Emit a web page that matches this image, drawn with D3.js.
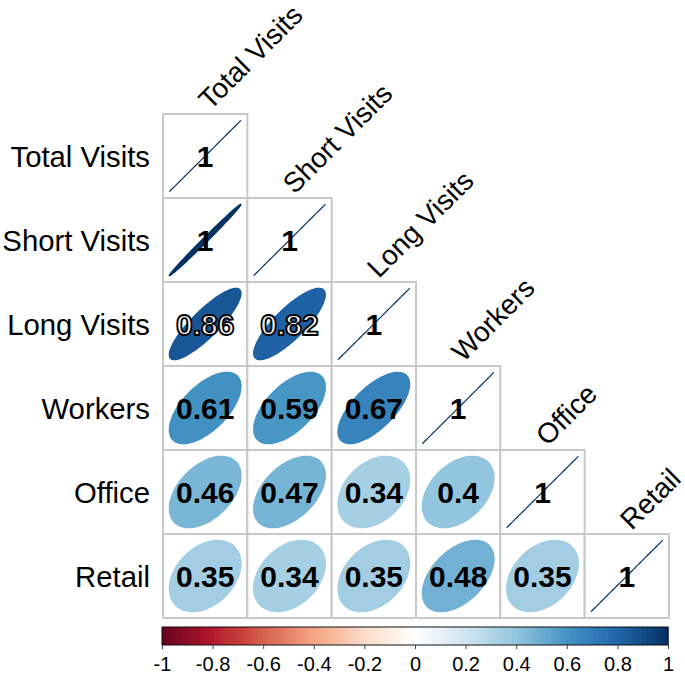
<!doctype html>
<meta charset="utf-8">
<title>Correlation matrix</title>
<style>
  body { margin: 0; background: #fff; }
  text { font-family: "Liberation Sans", Arial, sans-serif; }
</style>
<svg id="visual" width="685" height="674"></svg>
<script src="https://cdn.jsdelivr.net/npm/d3@7/dist/d3.min.js"></script>
<script>

// (variables)
var vars = ["Total Visits", "Short Visits", "Long Visits", "Workers", "Office", "Retail"];

// (lower triangle, row by row; diagonal included)
var corrRows = [
	[1],
	[0.9952, 1],
	[0.86, 0.82, 1],
	[0.61, 0.59, 0.67, 1],
	[0.46, 0.47, 0.34, 0.4, 1],
	[0.35, 0.34, 0.35, 0.48, 0.35, 1]
];

// values drawn as hollow text in the original
var hollowCells = ["2-0", "2-1"];

// (palette)
var paletteStops = ["#67001F", "#B2182B", "#D6604D", "#F4A582", "#FDDBC7", "#FFFFFF",
	"#D1E5F0", "#92C5DE", "#4393C3", "#2166AC", "#053061"];
var barTicks = [-1, -0.8, -0.6, -0.4, -0.2, 0, 0.2, 0.4, 0.6, 0.8, 1];

var svg = d3.select("#visual");

var x = d3.scaleBand().domain(vars).range([163, 669]);
var y = d3.scaleBand().domain(vars).range([114, 618]);
var bw = x.bandwidth(), bh = y.bandwidth();

var color = d3.scaleLinear()
	.domain(d3.range(paletteStops.length).map(function(i) { return -1 + 2 * i / (paletteStops.length - 1); }))
	.range(paletteStops);

// flatten
var cells = [];
corrRows.forEach(function(row, i) {
	row.forEach(function(r, j) {
		cells.push({row: vars[i], col: vars[j], i: i, j: j, r: r});
	});
});

// ellipse as in corrplot
function ellipse(d) {
	var a = Math.acos(Math.min(1, d.r));
	var cx = x(d.col) + bw / 2, cy = y(d.row) + bh / 2;
	var pts = d3.range(100).map(function(t) {
		var k = t * 2 * Math.PI / 99;
		return [cx + 0.85 * Math.cos(k + a / 2) / 2 * bw,
				cy - 0.85 * Math.cos(k - a / 2) / 2 * bh];
	});
	return d3.line()(pts) + "Z";
}

function isHollow(d) { return hollowCells.indexOf(d.i + "-" + d.j) >= 0; }

// (cells)
var g = svg.append("g");
g.selectAll("rect.cell")
	.data(cells)
	.enter()
	.append("rect")
	.attr("class", "cell")
	.attr("x", function(d) { return x(d.col); })
	.attr("y", function(d) { return y(d.row); })
	.attr("width", bw)
	.attr("height", bh)
	.attr("fill", "#fff")
	.attr("stroke", "#c8c8c8")
	.attr("stroke-width", 2);

g.selectAll("path.ell")
	.data(cells)
	.enter()
	.append("path")
	.attr("class", "ell")
	.attr("d", ellipse)
	.attr("fill", function(d) { return color(d.r); })
	.attr("stroke", function(d) { return color(d.r); })
	.attr("stroke-width", 1.2);

g.selectAll("text.val")
	.data(cells)
	.enter()
	.append("text")
	.attr("class", "val")
	.attr("x", function(d) { return x(d.col) + bw / 2; })
	.attr("y", function(d) { return y(d.row) + bh / 2; })
	.attr("text-anchor", "middle")
	.attr("dy", "0.36em")
	.attr("font-size", 30)
	.attr("font-weight", "bold")
	.attr("fill", function(d) { return isHollow(d) ? "#f2f2f2" : "#000"; })
	.attr("stroke", function(d) { return isHollow(d) ? "#000" : "none"; })
	.attr("stroke-width", 1.8)
	.text(function(d) { return String(Math.round(d.r * 100) / 100); });

// (row labels)
svg.selectAll("text.rowlab")
	.data(vars)
	.enter()
	.append("text")
	.attr("class", "rowlab")
	.attr("x", x.range()[0] - 13)
	.attr("y", function(d) { return y(d) + bh / 2; })
	.attr("dy", "0.36em")
	.attr("text-anchor", "end")
	.attr("font-size", 29.3)
	.text(function(d) { return d; });

// (column labels)
svg.selectAll("text.collab")
	.data(vars)
	.enter()
	.append("text")
	.attr("class", "collab")
	.attr("transform", function(d) {
		return "translate(" + (x(d) + bw / 2 + 5) + "," + (y(d) - 3) + ") rotate(-45)";
	})
	.attr("text-anchor", "start")
	.attr("font-size", 28)
	.text(function(d) { return d; });

// (color bar)
var bx = d3.scaleLinear().domain([-1, 1]).range([162, 668]);
var nBins = 200;
var bins = d3.range(nBins).map(function(i) { return -1 + 2 * (i + 0.5) / nBins; });
var bar = svg.append("g");
bar.selectAll("rect")
	.data(bins)
	.enter()
	.append("rect")
	.attr("x", function(d) { return bx(d - 1 / nBins); })
	.attr("y", 627)
	.attr("width", (bx(1) - bx(-1)) / nBins + 0.6)
	.attr("height", 18)
	.attr("fill", function(d) { return color(d); });
bar.append("rect")
	.attr("x", bx(-1))
	.attr("y", 627)
	.attr("width", bx(1) - bx(-1))
	.attr("height", 18)
	.attr("fill", "none")
	.attr("stroke", "#111")
	.attr("stroke-width", 1);

var axis = svg.append("g")
	.attr("transform", "translate(0,645)")
	.call(d3.axisBottom(bx).tickValues(barTicks).tickSize(4).tickSizeOuter(0)
		.tickFormat(function(d) { return String(+d.toFixed(1)); }));
axis.select(".domain").remove();
axis.selectAll(".tick line").attr("stroke", "#444");
axis.selectAll(".tick text")
	.attr("font-size", 20)
	.attr("font-family", "Liberation Sans, Arial, sans-serif")
	.attr("fill", "#000")
	.attr("y", 12);

</script>
